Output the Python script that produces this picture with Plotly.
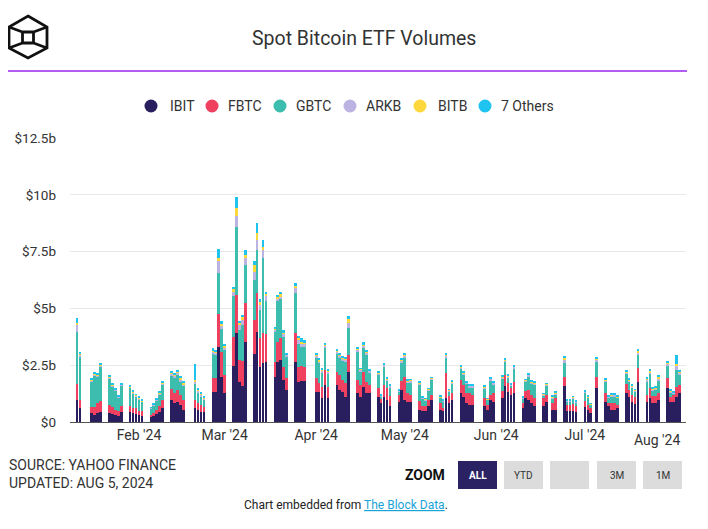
import plotly.graph_objects as go
import pandas as pd

# ---------------- data (USD billions, daily trading volume) ----------------
holidays = ["2024-01-15", "2024-02-19", "2024-03-29", "2024-05-27", "2024-06-19", "2024-07-04"]
dates = [d for d in pd.bdate_range("2024-01-11", "2024-08-02") if d.strftime("%Y-%m-%d") not in holidays]

ibit = [0.96, 0.60, 0.38, 0.32, 0.38, 0.45, 0.40, 0.35, 0.30, 0.28, 0.42, 0.45, 0.38, 0.35,
        0.30, 0.28, 0.20, 0.25, 0.35, 0.45, 0.60, 0.96, 0.82, 0.90, 0.75, 0.55, 0.60, 0.55, 0.45, 0.42,
        1.30, 1.34, 3.30, 2.00, 1.27, 2.48, 3.90, 1.75, 1.60, 3.50, 3.00, 3.98, 2.44, 2.60, 2.65,
        2.00, 2.65, 2.73, 1.85, 1.42, 2.66, 1.78, 1.80, 1.80,
        1.34, 1.34, 1.05, 1.64, 1.05, 1.64, 1.42, 1.34, 1.12, 2.18, 1.27, 1.12, 1.56, 1.27, 1.27,
        1.12, 0.85, 1.12, 0.98, 0.69, 0.90, 1.42,
        0.98, 0.90, 0.90, 0.54, 0.47, 0.47, 0.69, 0.98, 0.54, 0.47, 1.05, 0.83, 0.98,
        1.27, 1.12, 0.83, 0.76, 0.76, 0.69, 0.54, 0.98, 0.90,
        1.05, 1.59, 1.34, 1.20, 1.27, 0.61, 1.05, 0.98, 0.83, 0.69, 0.69, 0.90, 0.54, 0.54,
        1.59, 0.47, 0.47, 0.50, 0.45,
        0.66, 0.54, 0.40, 1.49, 0.90, 0.69, 0.54, 0.54, 0.61, 1.27, 1.12, 0.90, 0.80, 1.78,
        0.90, 1.05, 0.83, 0.83, 0.98, 1.49, 0.90, 0.90, 1.12, 1.27]
fbtc = [0.73, 0.37, 0.30, 0.33, 0.45, 0.48, 0.35, 0.30, 0.25, 0.20, 0.30, 0.25, 0.25, 0.25,
        0.20, 0.20, 0.10, 0.15, 0.20, 0.25, 0.35, 0.50, 0.45, 0.50, 0.45, 0.40, 0.35, 0.30, 0.30, 0.25,
        0.63, 0.60, 1.46, 1.10, 0.80, 1.25, 1.70, 1.00, 1.10, 1.75, 1.50, 1.68, 1.24, 1.30, 1.24,
        0.65, 0.88, 0.95, 0.58, 0.50, 1.24, 0.66, 0.65, 0.60,
        0.58, 0.37, 0.50, 0.66, 0.50, 0.58, 0.66, 0.50, 0.58, 0.77, 0.58, 0.50, 0.66, 0.50, 0.37,
        0.37, 0.15, 0.50, 0.50, 0.45, 0.30, 0.37,
        1.00, 0.37, 0.30, 0.37, 0.22, 0.22, 0.30, 0.22, 0.30, 0.15, 1.10, 0.30, 0.30,
        0.58, 0.50, 0.44, 0.50, 0.44, 0.37, 0.22, 0.22, 0.37,
        0.30, 0.48, 0.37, 0.30, 0.50, 0.22, 0.30, 0.44, 0.37, 0.37, 0.37, 0.30, 0.30, 0.50,
        0.40, 0.30, 0.30, 0.30, 0.25,
        0.25, 0.22, 0.22, 0.48, 0.37, 0.15, 0.30, 0.30, 0.15, 0.40, 0.30, 0.30, 0.30, 0.58,
        0.30, 0.45, 0.30, 0.30, 0.30, 0.44, 0.22, 0.30, 0.44, 0.37]
gbtc = [2.27, 1.90, 1.10, 1.40, 1.18, 1.50, 1.16, 0.93, 0.83, 0.60, 0.88, 0.80, 0.64, 0.52,
        0.50, 0.41, 0.30, 0.34, 0.40, 0.53, 0.70, 0.60, 0.70, 0.68, 0.60, 0.65, 0.75, 0.45, 0.38, 0.33,
        1.05, 1.00, 1.82, 1.00, 1.10, 1.80, 3.00, 1.30, 1.55, 1.65, 1.75, 1.90, 1.24, 3.30, 1.45,
        1.30, 1.80, 1.72, 1.30, 0.98, 1.80, 1.00, 0.85, 0.90,
        0.90, 0.87, 0.62, 0.96, 0.57, 0.78, 0.75, 0.86, 0.95, 1.17, 1.22, 0.60, 1.03, 1.18, 0.55,
        0.60, 0.12, 0.82, 0.35, 0.40, 0.14, 0.85,
        0.85, 0.47, 0.55, 0.73, 0.33, 0.27, 0.40, 0.66, 0.22, 0.28, 0.65, 0.22, 0.42,
        0.50, 0.47, 0.42, 0.28, 0.34, 0.43, 0.22, 0.64, 0.40,
        0.55, 0.58, 0.26, 0.10, 0.60, 0.22, 0.42, 0.60, 0.48, 0.59, 0.10, 0.39, 0.20, 0.18,
        0.60, 0.12, 0.12, 0.25, 0.15,
        0.38, 0.30, 0.13, 0.70, 0.50, 0.25, 0.30, 0.30, 0.30, 0.45, 0.35, 0.32, 0.25, 0.60,
        0.60, 0.60, 0.25, 0.30, 0.55, 0.55, 0.20, 0.05, 0.75, 0.45]
arkb = [0.30, 0.10, 0.05, 0.05, 0.04, 0.05, 0.05, 0.04, 0.04, 0.03, 0.04, 0.04, 0.04, 0.04,
        0.04, 0.03, 0.02, 0.03, 0.03, 0.04, 0.05, 0.08, 0.08, 0.10, 0.08, 0.07, 0.08, 0.08, 0.07, 0.05,
        0.12, 0.10, 0.50, 0.15, 0.12, 0.20, 0.45, 0.20, 0.25, 0.30, 0.35, 0.44, 0.22, 0.35, 0.20,
        0.10, 0.12, 0.14, 0.15, 0.05, 0.20, 0.15, 0.15, 0.15,
        0.10, 0.10, 0.10, 0.10, 0.10, 0.10, 0.10, 0.10, 0.10, 0.25, 0.12, 0.08, 0.12, 0.10, 0.06,
        0.06, 0.04, 0.07, 0.05, 0.05, 0.04, 0.08,
        0.10, 0.06, 0.07, 0.07, 0.05, 0.04, 0.05, 0.06, 0.04, 0.04, 0.12, 0.04, 0.05,
        0.07, 0.06, 0.05, 0.05, 0.05, 0.05, 0.03, 0.06, 0.05,
        0.06, 0.07, 0.05, 0.04, 0.06, 0.03, 0.06, 0.06, 0.06, 0.06, 0.05, 0.06, 0.05, 0.05,
        0.15, 0.04, 0.04, 0.04, 0.04,
        0.05, 0.04, 0.04, 0.08, 0.07, 0.03, 0.04, 0.05, 0.04, 0.07, 0.06, 0.06, 0.05, 0.12,
        0.08, 0.10, 0.05, 0.05, 0.07, 0.10, 0.04, 0.03, 0.15, 0.10]
bitb = [0.10, 0.06, 0.04, 0.04, 0.03, 0.05, 0.05, 0.04, 0.03, 0.03, 0.03, 0.03, 0.03, 0.03,
        0.03, 0.03, 0.02, 0.02, 0.03, 0.03, 0.04, 0.05, 0.05, 0.06, 0.06, 0.05, 0.08, 0.05, 0.04, 0.04,
        0.06, 0.05, 0.15, 0.08, 0.08, 0.12, 0.35, 0.10, 0.10, 0.15, 0.30, 0.30, 0.12, 0.15, 0.10,
        0.07, 0.06, 0.08, 0.07, 0.03, 0.10, 0.10, 0.08, 0.07,
        0.05, 0.06, 0.05, 0.05, 0.05, 0.05, 0.05, 0.05, 0.05, 0.15, 0.06, 0.04, 0.06, 0.05, 0.03,
        0.04, 0.02, 0.04, 0.03, 0.03, 0.02, 0.04,
        0.05, 0.03, 0.03, 0.03, 0.02, 0.02, 0.02, 0.02, 0.02, 0.02, 0.06, 0.02, 0.03,
        0.04, 0.03, 0.02, 0.02, 0.02, 0.02, 0.02, 0.03, 0.03,
        0.03, 0.04, 0.02, 0.02, 0.03, 0.02, 0.03, 0.03, 0.03, 0.03, 0.03, 0.03, 0.03, 0.03,
        0.08, 0.02, 0.02, 0.02, 0.02,
        0.02, 0.02, 0.02, 0.05, 0.04, 0.02, 0.02, 0.02, 0.02, 0.04, 0.03, 0.03, 0.02, 0.06,
        0.05, 0.05, 0.03, 0.03, 0.10, 0.05, 0.02, 0.02, 0.10, 0.05]
others = [0.20, 0.06, 0.05, 0.06, 0.05, 0.05, 0.05, 0.04, 0.03, 0.04, 0.03, 0.03, 0.03, 0.04,
          0.04, 0.04, 0.02, 0.02, 0.03, 0.03, 0.04, 0.06, 0.06, 0.05, 0.06, 0.06, 0.70, 0.07, 0.05, 0.04,
          0.08, 0.08, 0.37, 0.10, 0.08, 0.10, 0.50, 0.10, 0.12, 0.20, 0.20, 0.44, 0.14, 0.30, 0.10,
          0.08, 0.07, 0.10, 0.08, 0.04, 0.10, 0.10, 0.15, 0.08,
          0.06, 0.06, 0.05, 0.05, 0.05, 0.05, 0.05, 0.05, 0.05, 0.15, 0.07, 0.03, 0.07, 0.05, 0.03,
          0.04, 0.02, 0.04, 0.03, 0.03, 0.02, 0.04,
          0.05, 0.03, 0.04, 0.04, 0.03, 0.03, 0.03, 0.03, 0.03, 0.02, 0.05, 0.02, 0.03,
          0.04, 0.04, 0.03, 0.03, 0.03, 0.03, 0.02, 0.04, 0.03,
          0.04, 0.04, 0.03, 0.03, 0.04, 0.02, 0.03, 0.04, 0.04, 0.04, 0.03, 0.03, 0.03, 0.04,
          0.08, 0.03, 0.03, 0.03, 0.03,
          0.03, 0.03, 0.02, 0.05, 0.05, 0.03, 0.04, 0.06, 0.03, 0.04, 0.04, 0.03, 0.03, 0.06,
          0.05, 0.05, 0.04, 0.04, 0.04, 0.05, 0.04, 0.05, 0.40, 0.06]

series_names = ["IBIT", "FBTC", "GBTC", "ARKB", "BITB", "7 Others"]
series_colors = ["#2a1f5e", "#ef4060", "#3dbdad", "#bdb3e3", "#fdd83c", "#1ec3f0"]
series_values = [ibit, fbtc, gbtc, arkb, bitb, others]

y_tick_vals = [0, 2.5, 5, 7.5, 10, 12.5]
y_tick_text = ["$0", "$2.5b", "$5b", "$7.5b", "$10b", "$12.5b"]
x_tick_vals = ["2024-02-01", "2024-03-01", "2024-04-01", "2024-05-01", "2024-06-01", "2024-07-01"]
x_tick_text = ["Feb '24", "Mar '24", "Apr '24", "May '24", "Jun '24", "Jul '24"]
last_month_label = "Aug '24"
zoom_buttons = ["ALL", "YTD", "", "3M", "1M"]

for s in series_values:
    assert len(s) == len(dates), (len(s), len(dates))

# ---------------- layout helpers ----------------
# the page body has an 8px default margin; the figure is sized/placed to compensate
OFF = 8
W, H = 708 - OFF, 529 - OFF
L, R, T, B = 70, 686, 138, 422          # plot area in window pixel coordinates
def px(x):
    return (x - L) / (R - L)
def py(y):
    return (B - y) / (B - T)

FONT = "Roboto, 'Liberation Sans', Arial, sans-serif"
TXT = "#333333"

fig = go.Figure()
for name, color, vals in zip(series_names, series_colors, series_values):
    fig.add_trace(go.Bar(
        x=dates, y=vals, name=name, marker=dict(color=color, line=dict(width=0)),
        width=0.9 * 86400000, showlegend=False,
    ))

shapes = []
annotations = []

# logo (hexagon cube)
hexpts = [(28, 16), (47, 27), (47, 48), (28, 58), (9, 48), (9, 27)]
path = "M " + " L ".join(f"{px(x):.5f},{py(y):.5f}" for x, y in hexpts) + " Z"
inner = [(22.5, 32), (33.5, 32), (33.5, 43), (22.5, 43)]
path += " M " + " L ".join(f"{px(x):.5f},{py(y):.5f}" for x, y in inner) + " Z"
for (a, b) in [((9, 27), (22.5, 32)), ((47, 27), (33.5, 32)), ((9, 48), (22.5, 43)), ((47, 48), (33.5, 43))]:
    path += f" M {px(a[0]):.5f},{py(a[1]):.5f} L {px(b[0]):.5f},{py(b[1]):.5f}"
shapes.append(dict(type="path", xref="paper", yref="paper", path=path,
                   line=dict(color="#111111", width=2.8)))

# title + purple rule
annotations.append(dict(text="Spot Bitcoin ETF Volumes", xref="paper", yref="paper",
                        x=px(364), y=py(39), xanchor="center", yanchor="middle", showarrow=False,
                        font=dict(family=FONT, size=19.5, color=TXT)))
shapes.append(dict(type="line", xref="paper", yref="paper", x0=px(5), x1=px(687), y0=py(71), y1=py(71),
                   line=dict(color="#b35cf0", width=2)))

# legend (manual, circle markers)
leg_cx = [151, 212, 280, 350, 420, 485]
leg_tx = [168, 226, 294, 364, 436, 499]
for name, color, cx, tx in zip(series_names, series_colors, leg_cx, leg_tx):
    r = 6.5
    shapes.append(dict(type="circle", xref="paper", yref="paper", x0=px(cx - r), x1=px(cx + r),
                       y0=py(106 + r), y1=py(106 - r), fillcolor=color, line=dict(width=0)))
    annotations.append(dict(text=name, xref="paper", yref="paper", x=px(tx), y=py(106),
                            xanchor="left", yanchor="middle", showarrow=False,
                            font=dict(family=FONT, size=14, color=TXT)))

# last month label (pushed inside like the original)
annotations.append(dict(text=last_month_label, xref="paper", yref="paper", x=px(682), y=py(440),
                        xanchor="right", yanchor="middle", showarrow=False,
                        font=dict(family=FONT, size=14, color=TXT)))

# source
annotations.append(dict(text="SOURCE: YAHOO FINANCE<br>UPDATED: AUG 5, 2024", xref="paper", yref="paper",
                        x=px(7), y=py(474), xanchor="left", yanchor="middle", align="left", showarrow=False,
                        font=dict(family=FONT, size=14, color=TXT)))

# zoom buttons
annotations.append(dict(text="<b>ZOOM</b>", xref="paper", yref="paper", x=px(447), y=py(475),
                        xanchor="right", yanchor="middle", showarrow=False,
                        font=dict(family=FONT, size=14, color="#111111")))
btn_x = [458, 504, 550, 597, 643]
for label, bx in zip(zoom_buttons, btn_x):
    active = label == "ALL"
    shapes.append(dict(type="rect", xref="paper", yref="paper", x0=px(bx), x1=px(bx + 39),
                       y0=py(489), y1=py(461), fillcolor="#2b2264" if active else "#dcdcdc",
                       line=dict(width=0)))
    if label:
        annotations.append(dict(text=f"<b>{label}</b>" if active else label, xref="paper", yref="paper",
                                x=px(bx + 19.5), y=py(475), xanchor="center", yanchor="middle",
                                showarrow=False,
                                font=dict(family=FONT, size=10, color="#ffffff" if active else TXT)))

# footer
annotations.append(dict(
    text="Chart embedded from <span style='color:#1aa3d6'><u>The Block Data</u></span>.",
    xref="paper", yref="paper", x=px(346), y=py(505), xanchor="center", yanchor="middle",
    showarrow=False, font=dict(family=FONT, size=12, color="#222222")))

fig.update_layout(
    width=W, height=H, autosize=False,
    margin=dict(l=L - OFF, r=(W + OFF) - R, t=T - OFF, b=(H + OFF) - B, pad=0, autoexpand=False),
    paper_bgcolor="white", plot_bgcolor="white",
    barmode="stack", bargap=0,
    font=dict(family=FONT, size=14, color=TXT),
    shapes=shapes, annotations=annotations,
    xaxis=dict(type="date", range=["2024-01-08 15:00", "2024-08-04 06:00"],
               tickvals=x_tick_vals, ticktext=x_tick_text, showgrid=False, automargin=False,
               showline=True, linecolor="#555555", linewidth=1, ticks="",
               tickfont=dict(family=FONT, size=14, color=TXT), fixedrange=True),
    yaxis=dict(range=[0, 12.5], tickvals=y_tick_vals, ticktext=y_tick_text, automargin=False,
               showgrid=True, gridcolor="#e8e8e8", gridwidth=1, zeroline=False,
               ticks="", ticklabelstandoff=13,
               tickfont=dict(family=FONT, size=13.5, color=TXT), fixedrange=True),
)

fig.write_html("out.html", config={"displayModeBar": False})
